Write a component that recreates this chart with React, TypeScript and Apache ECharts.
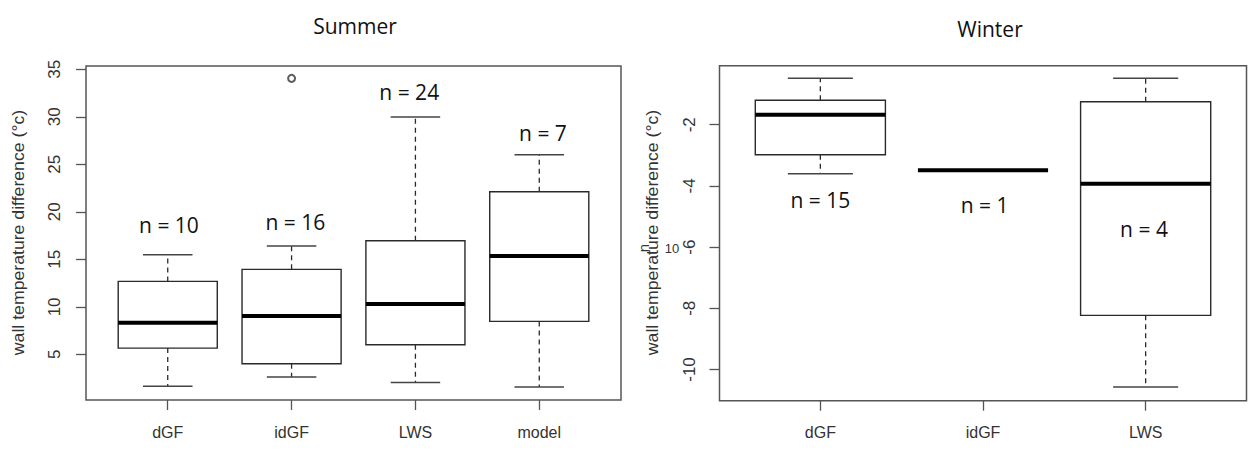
import React, { useEffect, useRef } from 'react';
import * as echarts from 'echarts';

// ---- Summer data ----
const summerCategories = ['dGF', 'idGF', 'LWS', 'model'];
const summerMin = [1.66, 2.61, 2.05, 1.56];
const summerQ1 = [5.66, 4.01, 6.01, 8.47];
const summerMedian = [8.33, 9.03, 10.3, 15.35];
const summerQ3 = [12.68, 13.95, 16.96, 22.12];
const summerMax = [15.49, 16.4, 29.98, 26.0];
const summerOutliers = [[2, 34.05]];
const summerN = [10, 16, 24, 7];
const summerLabelX = [1.01, 2.03, 2.95, 4.03];
const summerLabelY = [18.61, 18.96, 32.58, 28.26];
const summerYTicks = [5, 10, 15, 20, 25, 30, 35];

// ---- Winter data ----
const winterCategories = ['dGF', 'idGF', 'LWS'];
const winterMin = [-3.6, -3.49, -10.57];
const winterQ1 = [-2.98, -3.49, -8.23];
const winterMedian = [-1.67, -3.49, -3.93];
const winterQ3 = [-1.2, -3.49, -1.25];
const winterMax = [-0.48, -3.49, -0.48];
const winterN = [15, 1, 4];
const winterLabelX = [1.0, 2.01, 2.99];
const winterLabelY = [-4.46, -4.62, -5.41];
const winterYTicks = [-10, -8, -6, -4, -2];

const AXIS_FONT = '"Liberation Sans", Arial, sans-serif';
const LABEL_FONT = '"Open Sans", sans-serif';

const boxRender = (params: any, api: any) => {
  const x = api.value(0);
  const mn = api.value(1);
  const q1 = api.value(2);
  const md = api.value(3);
  const q3 = api.value(4);
  const mx = api.value(5);
  const pMin = api.coord([x, mn]);
  const pQ1 = api.coord([x, q1]);
  const pMd = api.coord([x, md]);
  const pQ3 = api.coord([x, q3]);
  const pMax = api.coord([x, mx]);
  const w = api.size([0.8, 0])[0];
  const sw = w / 2;
  const cx = pMd[0];
  const stroke = '#2a2a2a';
  const children: any[] = [];
  if (mx > q3) {
    children.push({
      type: 'line',
      shape: { x1: cx, y1: pQ3[1], x2: cx, y2: pMax[1] },
      style: { stroke, lineWidth: 1.3, lineDash: [5, 4] },
    });
    children.push({
      type: 'line',
      shape: { x1: cx - sw / 2, y1: pMax[1], x2: cx + sw / 2, y2: pMax[1] },
      style: { stroke: '#444', lineWidth: 1.5 },
    });
  }
  if (mn < q1) {
    children.push({
      type: 'line',
      shape: { x1: cx, y1: pQ1[1], x2: cx, y2: pMin[1] },
      style: { stroke, lineWidth: 1.3, lineDash: [5, 4] },
    });
    children.push({
      type: 'line',
      shape: { x1: cx - sw / 2, y1: pMin[1], x2: cx + sw / 2, y2: pMin[1] },
      style: { stroke: '#444', lineWidth: 1.5 },
    });
  }
  children.push({
    type: 'rect',
    shape: { x: cx - w / 2, y: pQ3[1], width: w, height: pQ1[1] - pQ3[1] },
    style: { fill: '#fff', stroke, lineWidth: 1.4 },
  });
  children.push({
    type: 'line',
    shape: { x1: cx - w / 2, y1: pMd[1], x2: cx + w / 2, y2: pMd[1] },
    style: { stroke: '#000', lineWidth: 4 },
  });
  return { type: 'group', children };
};

const labelRender = (params: any, api: any) => {
  const p = api.coord([api.value(0), api.value(1)]);
  return {
    type: 'text',
    x: p[0],
    y: p[1],
    style: {
      text: 'n = ' + api.value(2),
      fontSize: 21,
      fontFamily: LABEL_FONT,
      fill: '#111',
      align: 'center',
      verticalAlign: 'middle',
    },
  };
};

const makeXAxis = (gridIndex: number, cats: string[], min: number, max: number) => {
  const vals = cats.map((_, i) => i + 1);
  return {
    type: 'value',
    gridIndex,
    min,
    max,
    splitLine: { show: false },
    axisLine: { show: false },
    axisTick: {
      show: true,
      customValues: vals,
      length: 10,
      lineStyle: { color: '#555', width: 1.3 },
    },
    axisLabel: {
      customValues: vals,
      formatter: (v: number) => cats[Math.round(v) - 1] ?? '',
      margin: 24,
      fontSize: 16,
      fontFamily: AXIS_FONT,
      color: '#333',
    },
  };
};

const makeYAxis = (gridIndex: number, ticks: number[], min: number, max: number, margin: number) => ({
  type: 'value',
  gridIndex,
  min,
  max,
  splitLine: { show: false },
  axisLine: { show: false },
  axisTick: {
    show: true,
    customValues: ticks,
    length: 10,
    lineStyle: { color: '#555', width: 1.3 },
  },
  axisLabel: {
    customValues: ticks,
    rotate: 90,
    margin,
    fontSize: 17,
    fontFamily: AXIS_FONT,
    color: '#333',
  },
});

export default function App() {
  const ref = useRef<HTMLDivElement>(null);
  useEffect(() => {
    if (!ref.current) return;
    const chart = echarts.init(ref.current, undefined, { renderer: 'svg' });
    const summerBoxes = summerCategories.map((_, i) => [
      i + 1, summerMin[i], summerQ1[i], summerMedian[i], summerQ3[i], summerMax[i],
    ]);
    const winterBoxes = winterCategories.map((_, i) => [
      i + 1, winterMin[i], winterQ1[i], winterMedian[i], winterQ3[i], winterMax[i],
    ]);
    const summerLabels = summerN.map((n, i) => [summerLabelX[i], summerLabelY[i], n]);
    const winterLabels = winterN.map((n, i) => [winterLabelX[i], winterLabelY[i], n]);

    chart.setOption({
      animation: false,
      backgroundColor: '#fff',
      grid: [
        { left: 86, top: 66, width: 535, height: 334, show: true, borderColor: '#555', borderWidth: 1.5, backgroundColor: 'transparent' },
        { left: 719.5, top: 65.7, width: 527, height: 335, show: true, borderColor: '#555', borderWidth: 1.5, backgroundColor: 'transparent' },
      ],
      xAxis: [
        makeXAxis(0, summerCategories, 0.34, 4.66),
        makeXAxis(1, winterCategories, 0.38, 3.62),
      ],
      yAxis: [
        makeYAxis(0, summerYTicks, 0.2, 35.35, 23),
        makeYAxis(1, winterYTicks, -11.02, -0.07, 22),
      ],
      graphic: [
        { type: 'text', x: 355, y: 26, style: { text: 'Summer', fontSize: 21, fontFamily: LABEL_FONT, fill: '#111', align: 'center', verticalAlign: 'middle' } },
        { type: 'text', x: 990, y: 28.5, style: { text: 'Winter', fontSize: 21, fontFamily: LABEL_FONT, fill: '#111', align: 'center', verticalAlign: 'middle' } },
        { type: 'text', x: 18.5, y: 232.5, rotation: Math.PI / 2, scaleX: 1.04, style: { text: 'wall temperature difference (°c)', fontSize: 17, fontFamily: AXIS_FONT, fill: '#333', align: 'center', verticalAlign: 'middle' } },
        { type: 'text', x: 652, y: 232.5, rotation: Math.PI / 2, scaleX: 1.04, style: { text: 'wall temperature difference (°c)', fontSize: 17, fontFamily: AXIS_FONT, fill: '#333', align: 'center', verticalAlign: 'middle' } },
        { type: 'text', x: 643, y: 248, rotation: Math.PI / 2, style: { text: 'n', fontSize: 15, fontFamily: AXIS_FONT, fill: '#333', align: 'center', verticalAlign: 'middle' } },
        { type: 'text', x: 672, y: 248, style: { text: '10', fontSize: 13, fontFamily: AXIS_FONT, fill: '#333', align: 'center', verticalAlign: 'middle' } },
      ],
      series: [
        { type: 'custom', xAxisIndex: 0, yAxisIndex: 0, renderItem: boxRender, data: summerBoxes, encode: { x: 0, y: [1, 2, 3, 4, 5] }, silent: true },
        { type: 'scatter', xAxisIndex: 0, yAxisIndex: 0, data: summerOutliers, symbol: 'emptyCircle', symbolSize: 7, itemStyle: { color: '#333', borderWidth: 1 }, silent: true },
        { type: 'custom', xAxisIndex: 0, yAxisIndex: 0, renderItem: labelRender, data: summerLabels, encode: { x: 0, y: 1 }, silent: true },
        { type: 'custom', xAxisIndex: 1, yAxisIndex: 1, renderItem: boxRender, data: winterBoxes, encode: { x: 0, y: [1, 2, 3, 4, 5] }, silent: true },
        { type: 'custom', xAxisIndex: 1, yAxisIndex: 1, renderItem: labelRender, data: winterLabels, encode: { x: 0, y: 1 }, silent: true },
      ],
    });
    return () => chart.dispose();
  }, []);
  return (
    <div
      ref={ref}
      style={{ position: 'absolute', left: 0, top: 0, width: 1251, height: 455 }}
    />
  );
}
